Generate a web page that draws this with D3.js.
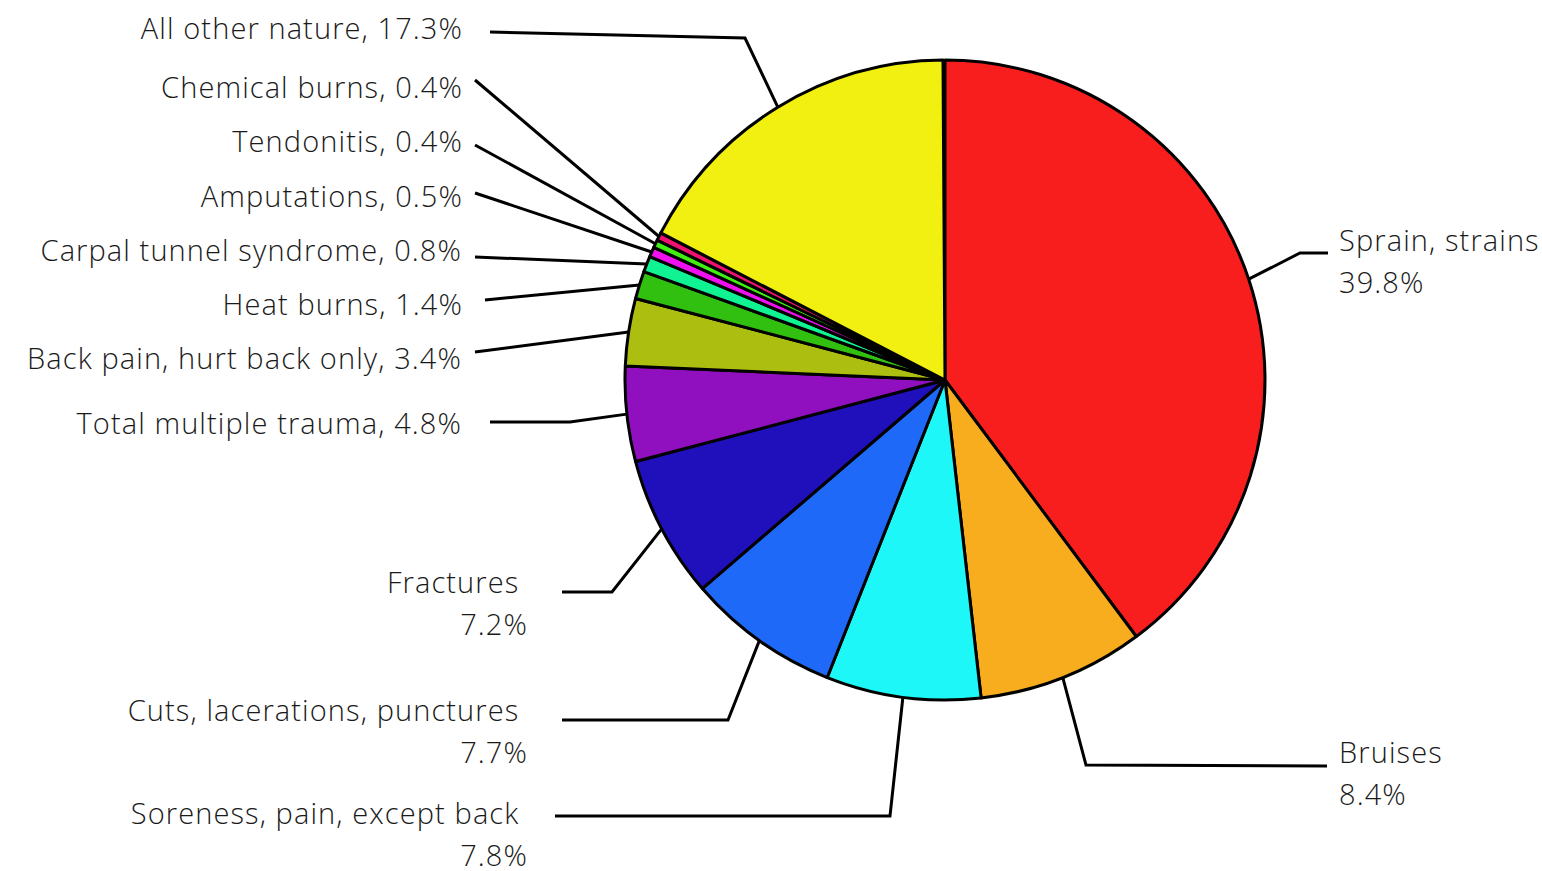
<!DOCTYPE html>
<html>
<head>
<meta charset="utf-8">
<script src="https://cdn.jsdelivr.net/npm/d3@7"></script>
<style>
  body { margin: 0; background: #fff; }
  text { font-family: "Open Sans", sans-serif; font-weight: 300; font-size: 29px; letter-spacing: 1.1px; fill: #1a1a1a; white-space: pre; }
</style>
</head>
<body>
<div id="chart"></div>
<script>
var categories = ["Sprain, strains", "Bruises", "Soreness, pain, except back", "Cuts, lacerations, punctures",
  "Fractures", "Total multiple trauma", "Back pain, hurt back only", "Heat burns", "Carpal tunnel syndrome",
  "Amputations", "Tendonitis", "Chemical burns", "All other nature"]
var values = [39.8, 8.4, 7.8, 7.7, 7.2, 4.8, 3.4, 1.4, 0.8, 0.5, 0.4, 0.4, 17.3]
var colors = ["#f91e1e", "#f8ad1e", "#1ef7f7", "#1e69f7", "#2010bb", "#9010bf", "#acbf10", "#31bf10",
  "#10f393", "#ee10ee", "#40ef10", "#ef1070", "#f1f010"]

// label layout: text lines, anchor x, y of first line, connector points (from label towards slice)
var labelLayout = [
  {lines: ["Sprain, strains", "39.8%"], x: 1339, y: 239, anchor: "start", path: [[1328, 253], [1300, 253]]},
  {lines: ["Bruises", "8.4%"], x: 1339, y: 751, anchor: "start", path: [[1327, 766], [1086, 765]]},
  {lines: ["Soreness, pain, except back ", "7.8%"], x: 528, y: 812, anchor: "end", path: [[555, 816], [890, 816]]},
  {lines: ["Cuts, lacerations, punctures ", "7.7%"], x: 528, y: 709, anchor: "end", path: [[562, 720], [728, 720]]},
  {lines: ["Fractures ", "7.2%"], x: 528, y: 581, anchor: "end", path: [[562, 592], [612, 592]]},
  {lines: ["Total multiple trauma, 4.8%"], x: 462, y: 422, anchor: "end", path: [[490, 422], [570, 422]]},
  {lines: ["Back pain, hurt back only, 3.4%"], x: 462, y: 357, anchor: "end", path: [[475, 352]]},
  {lines: ["Heat burns, 1.4%"], x: 463, y: 303, anchor: "end", path: [[485, 300]]},
  {lines: ["Carpal tunnel syndrome, 0.8%"], x: 462, y: 249, anchor: "end", path: [[475, 257]]},
  {lines: ["Amputations, 0.5%"], x: 463, y: 195, anchor: "end", path: [[475, 193]]},
  {lines: ["Tendonitis, 0.4%"], x: 463, y: 140, anchor: "end", path: [[475, 145]]},
  {lines: ["Chemical burns, 0.4%"], x: 463, y: 86, anchor: "end", path: [[475, 80]]},
  {lines: ["All other nature, 17.3%"], x: 463, y: 27, anchor: "end", path: [[490, 32], [745, 38]]}
]

var width = 1542, height = 871
var cx = 945, cy = 380, radius = 320

var svg = d3.select("#chart")
  .append("svg")
    .attr("width", width)
    .attr("height", height)

var data = categories.map(function(c, i) { return {name: c, value: values[i], color: colors[i]} })

var pie = d3.pie()
  .sort(null)
  .value(function(d) { return d.value })
  .endAngle(2 * Math.PI * d3.sum(values) / 100)

var arcs = pie(data)
var arc = d3.arc().innerRadius(0).outerRadius(radius)

var g = svg.append("g")
  .attr("transform", "translate(" + cx + "," + cy + ")")

g.selectAll("path")
  .data(arcs)
  .enter()
  .append("path")
    .attr("d", arc)
    .attr("fill", function(d) { return d.data.color })
    .attr("stroke", "#000")
    .attr("stroke-width", 3)
    .attr("stroke-linejoin", "round")

// connector lines end at outer edge, mid angle of each slice
arcs.forEach(function(a, i) {
  var mid = (a.startAngle + a.endAngle) / 2
  var ax = cx + radius * Math.sin(mid)
  var ay = cy - radius * Math.cos(mid)
  var L = labelLayout[i]
  var pts = L.path.concat([[ax, ay]])
  svg.append("path")
    .attr("d", d3.line()(pts))
    .attr("fill", "none")
    .attr("stroke", "#000")
    .attr("stroke-width", 3)

  var t = svg.append("text")
    .attr("text-anchor", L.anchor)
    .attr("dominant-baseline", "central")
  L.lines.forEach(function(line, j) {
    t.append("tspan")
      .attr("x", L.x)
      .attr("y", L.y + j * 42)
      .text(line)
  })
})
</script>
</body>
</html>
